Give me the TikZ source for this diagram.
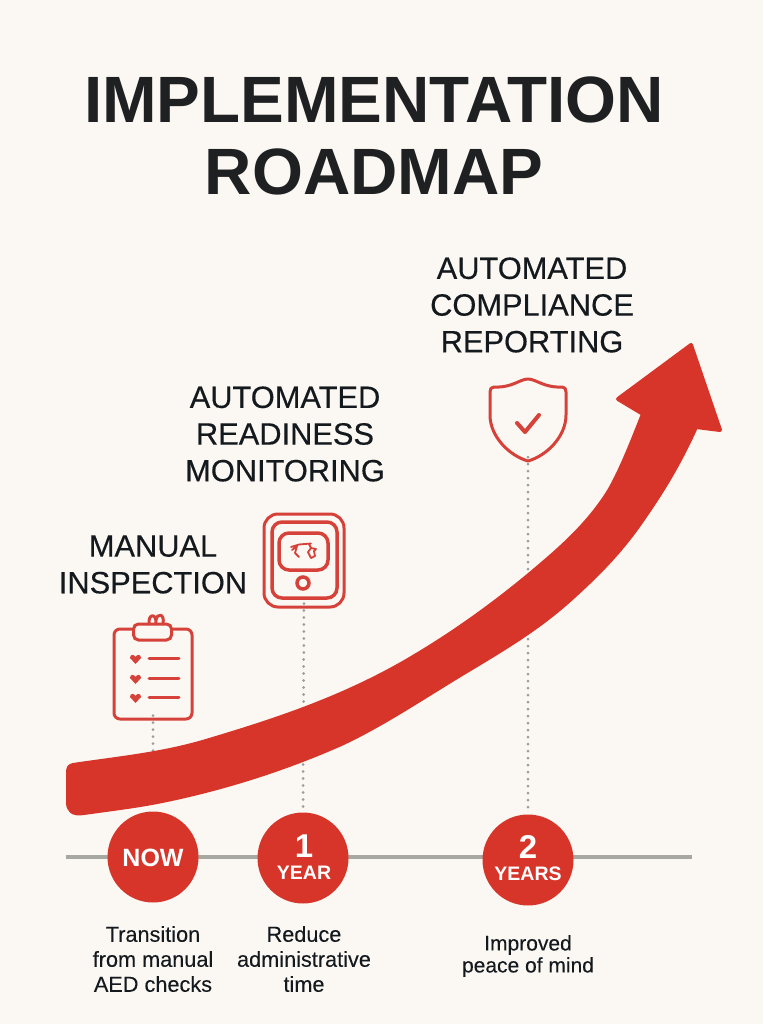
\documentclass[tikz,border=0pt]{standalone}
\usepackage{fontspec}
\setmainfont{Liberation Sans}
\newfontfamily\medfont[FakeBold=0.35]{Liberation Sans}
\newfontfamily\semifont[FakeBold=0.12]{Liberation Sans}
\definecolor{bgc}{HTML}{FBF8F3}
\definecolor{redc}{HTML}{D8352A}
\definecolor{iconc}{HTML}{D6423A}
\definecolor{inkc}{HTML}{14191E}
\definecolor{titlec}{HTML}{1F2022}
\definecolor{linec}{HTML}{A8A8A3}
\definecolor{dotc}{HTML}{9C9C98}
\tikzset{
  titletext/.style={text=titlec,font=\bfseries\fontsize{65.5}{72}\selectfont,align=center,inner sep=0pt},
  headtext/.style={text=inkc,font=\medfont\fontsize{30.8}{36.7}\selectfont,align=center,inner sep=0pt},
  bodytext/.style={text=inkc,font=\semifont\fontsize{21.7}{25}\selectfont,align=center,inner sep=0pt},
  smalltext/.style={text=inkc,font=\semifont\fontsize{21}{22}\selectfont,align=center,inner sep=0pt},
  yearcircle/.style={circle,fill=redc,minimum size=91pt,inner sep=0pt},
  circnum/.style={text=white,font=\bfseries\fontsize{33}{33}\selectfont,inner sep=0pt},
  circword/.style={text=white,font=\bfseries\fontsize{19.5}{20}\selectfont,inner sep=0pt},
  iconline/.style={draw=iconc,line width=3pt,line cap=round,line join=round},
  iconbox/.style={rectangle,draw=iconc,line width=3pt,inner sep=0pt},
  dotline/.style={draw=dotc,line width=3pt,line cap=round,dash pattern=on 0pt off 7pt},
  axisline/.style={draw=linec,line width=3.5pt},
}
\begin{document}
\begin{tikzpicture}[x=1pt,y=-1pt]
\useasboundingbox (0,0) rectangle (763,1024);
\fill[bgc] (0,0) rectangle (763,1024);

% title
\node[titletext] (title) at (374,136) {IMPLEMENTATION\\ROADMAP};

% headings
\node[headtext] (h1) at (153,564.5) {MANUAL\\INSPECTION};
\node[headtext] (h2) at (285,434) {AUTOMATED\\READINESS\\MONITORING};
\node[headtext] (h3) at (532,305) {AUTOMATED\\COMPLIANCE\\REPORTING};

% axis and circles
\coordinate (axL) at (66,857);
\coordinate (axR) at (692,857);
\draw[axisline] (axL) -- (axR);
\node[yearcircle] (now) at (153,857) {};
\node[yearcircle] (y1) at (303,858) {};
\node[yearcircle] (y2) at (528,860) {};
\node[text=white,font=\bfseries\fontsize{25}{25}\selectfont,inner sep=0pt] (nowt) at (153,858) {NOW};
\node[circnum] (y1n) at (304,846) {1};
\node[circword] (y1w) at (304,873) {YEAR};
\node[circnum] (y2n) at (528,847) {2};
\node[circword] (y2w) at (528,874) {YEARS};

% clipboard icon
\node[iconbox,rounded corners=6pt,minimum width=78pt,minimum height=90pt] (clip) at (153,674) {};
\node[iconbox,rounded corners=5pt,fill=bgc,minimum width=38pt,minimum height=16pt] (clipt) at (152.5,632) {};
\draw[iconline] (149,624) .. controls (148,613) and (157,613) .. (156,624);
\draw[iconline] (156,620) .. controls (157,613) and (165,613) .. (163,624);
\foreach \yy in {658,678,697}{
  \fill[iconc] (135.5,\yy+6) -- (130,\yy) .. controls (130,\yy-4) and (134,\yy-4) .. (135.5,\yy-1)
     .. controls (137,\yy-4) and (141,\yy-4) .. (141,\yy) -- cycle;
  \draw[iconline] (149,\yy) -- (179,\yy);
}

% device icon
\node[iconbox,rounded corners=14pt,minimum width=80pt,minimum height=93pt] (dev) at (304,560.5) {};
\node[iconbox,line width=3.5pt,rounded corners=10pt,minimum width=65pt,minimum height=76pt] (devm) at (304.5,560) {};
\node[iconbox,line width=3.5pt,rounded corners=10pt,minimum width=49pt,minimum height=37pt] (devs) at (303.5,551.5) {};
\node[circle,draw=iconc,line width=3.5pt,minimum size=12pt,inner sep=0pt] (devb) at (303,583) {};
\draw[iconc,line width=1.8pt,line cap=round,line join=round]
  (291,547) -- (299,544.5) -- (311,543.5)
  (292,550) -- (297,546) -- (295,553) -- (299,557)
  (309,544) -- (311,548) -- (308,552) -- (311,558) -- (315,556) -- (314,551) -- (316,549) -- (311,548);

% shield icon
\node[inner sep=0pt,minimum width=76pt,minimum height=82pt] (shield) at (528,420) {};
\draw[iconline] (528,379)
  .. controls (520,379) and (512,388) .. (494,387)
  .. controls (491,387) and (490,389) .. (490,392)
  -- (490,415)
  .. controls (490,437) and (510,456) .. (528,461)
  .. controls (546,456) and (566,437) .. (566,415)
  -- (566,392)
  .. controls (566,389) and (565,387) .. (562,387)
  .. controls (544,388) and (536,379) .. (528,379) -- cycle;
\draw[iconline,line width=4pt] (517,423) -- (525,432) -- (539,415);

% dotted connectors
\draw[dotline,shorten >=10pt] ([yshift=5pt]clip.south) -- (now.north);
\draw[dotline,shorten >=5pt] ([yshift=5pt]dev.south) -- (y1.north);
\draw[dotline,shorten >=6pt] ([yshift=4pt]shield.south) -- (y2.north);

% arrow
\filldraw[redc,line width=4pt,line join=round]
  (73,765)
  .. controls (117,758.4) and (162,754.2) .. (206,741)
  .. controls (273,721) and (341,699) .. (408,660)
  .. controls (449,636) and (489,608) .. (530,574)
  .. controls (556,552) and (585,528) .. (607,494)
  .. controls (619,475) and (632,442) .. (643,414)
  -- (618,399) -- (691,345) -- (720,430) -- (696,427)
  .. controls (677,469) and (658,498) .. (639,525)
  .. controls (617,556) and (594,578) .. (572,598)
  .. controls (539,628) and (505,648) .. (472,668)
  .. controls (428,694) and (383,725) .. (339,745)
  .. controls (282,770) and (224,788) .. (167,800)
  .. controls (139,806) and (112,809) .. (84,813)
  .. controls (72,815) and (68,810) .. (68,802)
  -- (68,773) .. controls (68,768) and (69,766) .. (73,765) -- cycle;

% captions
\node[bodytext] (c1) at (153,959) {Transition\\from manual\\AED checks};
\node[bodytext] (c2) at (304,959) {Reduce\\administrative\\time};
\node[smalltext] (c3) at (528,956) {Improved\\peace of mind};
\end{tikzpicture}
\end{document}
